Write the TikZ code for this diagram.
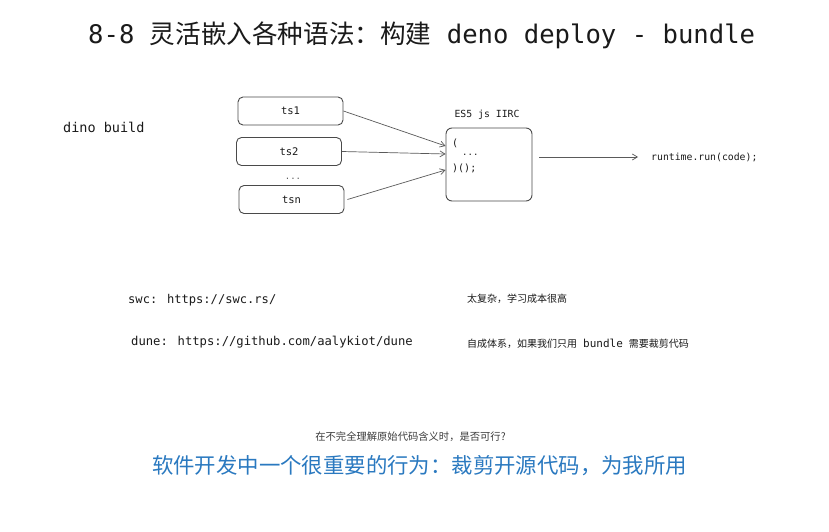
\documentclass[tikz,border=0pt]{standalone}
\usepackage{fontspec}
\setmainfont{DejaVu Sans}
\newfontfamily\monof{DejaVu Sans Mono}
\newfontfamily\cjk{Noto Sans CJK SC}
\usetikzlibrary{arrows.meta,positioning}
\definecolor{ink}{HTML}{1A1A1A}
\definecolor{edge}{HTML}{4A4A4A}
\definecolor{wire}{HTML}{5A5A5A}
\definecolor{bluetxt}{HTML}{2A79C0}
\tikzset{
  txt/.style={inner sep=0pt, text=ink},
  mono/.style={txt, font=\monof\fontsize{#1}{#1}\selectfont},
  cjktxt/.style={txt, font=\cjk\fontsize{#1}{#1}\selectfont},
  tsbox/.style={draw=edge, line width=0.9pt, rounded corners=5pt,
    minimum width=105pt, minimum height=28pt, inner sep=0pt,
    font=\monof\fontsize{10.5}{10.5}\selectfont, text=ink},
  codebox/.style={draw=edge, line width=0.9pt, rounded corners=6pt,
    minimum width=86pt, minimum height=73pt, inner sep=0pt},
  wirearrow/.style={draw=wire, line width=0.7pt,
    -{Straight Barb[length=5pt,width=6pt]}}
}
\begin{document}
\begin{tikzpicture}[x=1pt,y=-1pt]
\useasboundingbox[fill=white] (0,0) rectangle (829,532);

% title
\node[txt, anchor=west, font=\fontsize{25.6}{30}\selectfont] (title) at (88,35)
  {\monof 8-8 \cjk 灵活嵌入各种语法：构建\monof{} deno deploy - bundle};

% left label
\node[mono=13.5, anchor=west] (dino) at (63,127) {dino build};

% inputs
\node[tsbox] (ts1) at (290.5,111) {ts1};
\node[tsbox] (ts2) at (289,151.5) {ts2};
\node[mono=9, text=ink!70] (dots) at (293,179) {...};
\node[tsbox] (tsn) at (291.5,199.5) {tsn};

% ES5 box
\node[codebox] (es5) at (489,164.5) {};
\node[mono=9.8] (es5lbl) at (487,115) {ES5 js IIRC};
\node[mono=10, anchor=west] (c1) at (452,143) {(};
\node[mono=9, anchor=west] (c2) at (462,155) {...};
\node[mono=10, anchor=west] (c3) at (452,168) {)();};

\coordinate (in1) at ([yshift=18.5pt]es5.west);
\coordinate (in2) at ([yshift=10.5pt]es5.west);
\coordinate (in3) at ([yshift=-5.5pt]es5.west);
\draw[wirearrow] (ts1.east) -- (in1);
\draw[wirearrow] (ts2.east) -- (in2);
\draw[wirearrow] ([xshift=3pt]tsn.east) -- (in3);

% output
\node[mono=9.8, anchor=west] (runtime) at (651,157) {runtime.run(code);};
\coordinate (out0) at ([xshift=7pt,yshift=7.5pt]es5.east);
\draw[wirearrow] (out0) -- ([xshift=-13pt]runtime.west);

% references
\node[mono=12.1, anchor=west] (swc) at (128,300) {swc: https://swc.rs/};
\node[mono=12.2, anchor=west] (dune) at (131,342) {dune: https://github.com/aalykiot/dune};
\node[cjktxt=10, anchor=west] (swcnote) at (467,299) {太复杂，学习成本很高};
\node[cjktxt=10, anchor=west] (dunenote) at (467,344)
  {自成体系，如果我们只用\hspace{6pt}{\monof\fontsize{11}{11}\selectfont bundle}\hspace{6pt}需要裁剪代码};

% bottom
\node[cjktxt=10.3, text=ink!85] (question) at (410.5,437) {在不完全理解原始代码含义时，是否可行?};
\node[cjktxt=21.4, text=bluetxt] (motto) at (419.5,466) {软件开发中一个很重要的行为：裁剪开源代码，为我所用};
\end{tikzpicture}
\end{document}
